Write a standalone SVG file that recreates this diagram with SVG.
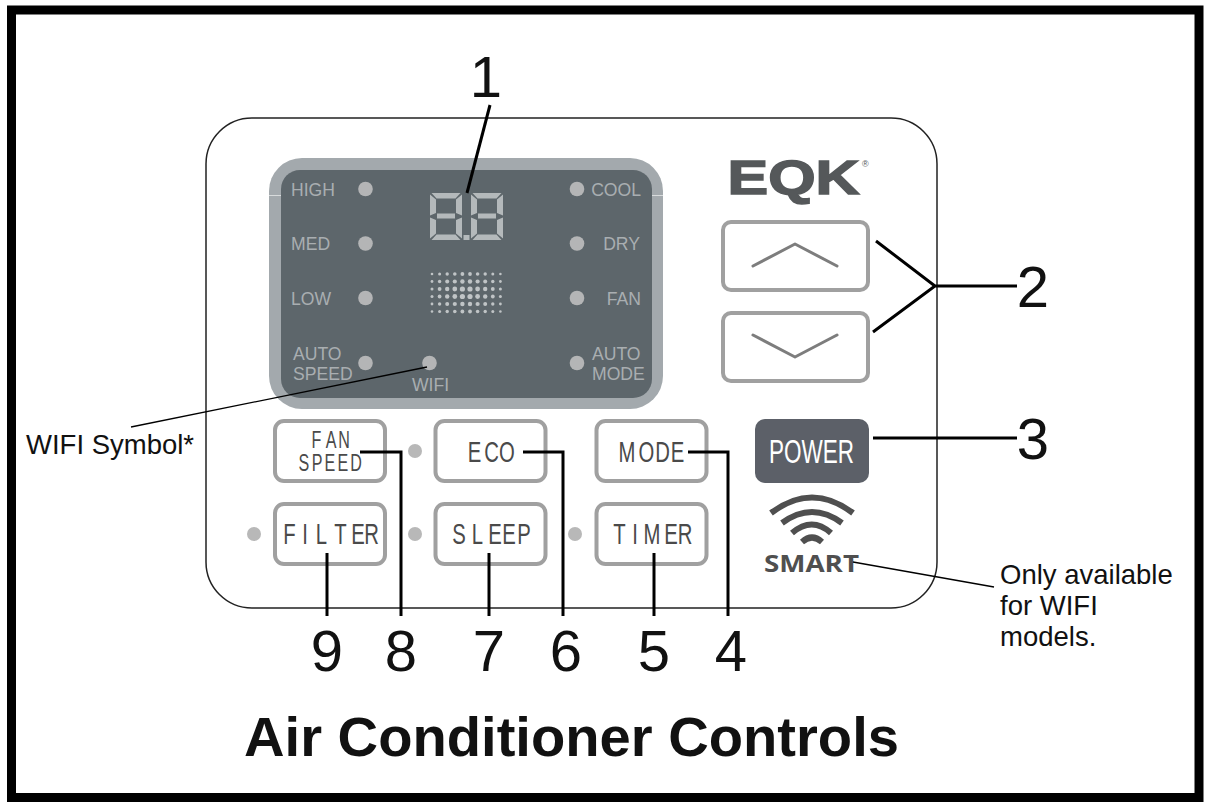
<svg xmlns="http://www.w3.org/2000/svg" width="1208" height="808" viewBox="0 0 1208 808">
<style>
text{font-family:"Liberation Sans",Arial,sans-serif}
.num{font-size:58px;fill:#111;text-anchor:middle}
.note{font-size:27.500px;fill:#111}
.d{font-size:17.600px;fill:#a9aeb1}
.led{fill:#b4b5b6}
.btn{fill:#fff;stroke:#a0a0a0;stroke-width:4}
.bt{fill:#4a4a4a;font-size:29px;text-anchor:middle}
.bs{font-size:23px}
.dot{fill:#b8b8b8}
.seg{fill:#b4b9bb}
.lead{fill:none;stroke:#000;stroke-width:3}
.thin{fill:none;stroke:#000;stroke-width:1.300}
.chev{fill:none;stroke:#7d7d7d;stroke-width:3;stroke-linecap:round;stroke-linejoin:round}
.wf{fill:none;stroke:#4f4f4f;stroke-width:6}
</style>
<defs>
<g id="digit">
<path class="seg" d="M1.500 0H30.500L25.500 5.500H6.500ZM0 1.500L6 6.500V20L0 22.500ZM32 1.500V22.500L26 20V6.500ZM7 20.500H25V25.500H7ZM0 24.500L6 27V40.500L0 45.500ZM32 24.500V45.500L26 40.500V27ZM6.500 41.500H25.500L30.500 47H1.500Z"/>
</g>
</defs>
<rect id="frame" x="11.500" y="10" width="1187.500" height="787.500" fill="#fff" stroke="#000" stroke-width="9"/>
<g id="panel"><rect x="206" y="118" width="731" height="490" rx="46" fill="#fff" stroke="#222" stroke-width="1.500"/></g>
<g id="display">
<rect x="269" y="158" width="394" height="251" rx="33" fill="#a3a9ad"/>
<rect x="281" y="170" width="371" height="228" rx="19" fill="#5d666b"/>
<path d="M269 195.500H281M652 195.500H663" stroke="#d8dbdc" stroke-width="1"/>
<use href="#digit" x="430" y="193"/>
<use href="#digit" x="471" y="193"/>
<rect class="seg" x="463.500" y="235" width="6" height="5"/>
<g id="dots" fill="#c0c4c6">
<circle cx="432" cy="274" r="1.300"/><circle cx="439.600" cy="274" r="1.500"/><circle cx="447.200" cy="274" r="1.700"/><circle cx="454.800" cy="274" r="1.800"/><circle cx="462.400" cy="274" r="1.900"/><circle cx="470" cy="274" r="1.900"/><circle cx="477.600" cy="274" r="1.800"/><circle cx="485.200" cy="274" r="1.700"/><circle cx="492.800" cy="274" r="1.500"/><circle cx="500.400" cy="274" r="1.300"/>
<circle cx="432" cy="281.500" r="1.400"/><circle cx="439.600" cy="281.500" r="1.700"/><circle cx="447.200" cy="281.500" r="2"/><circle cx="454.800" cy="281.500" r="2.100"/><circle cx="462.400" cy="281.500" r="2.200"/><circle cx="470" cy="281.500" r="2.200"/><circle cx="477.600" cy="281.500" r="2.100"/><circle cx="485.200" cy="281.500" r="2"/><circle cx="492.800" cy="281.500" r="1.700"/><circle cx="500.400" cy="281.500" r="1.400"/>
<circle cx="432" cy="289" r="1.500"/><circle cx="439.600" cy="289" r="1.900"/><circle cx="447.200" cy="289" r="2.200"/><circle cx="454.800" cy="289" r="2.400"/><circle cx="462.400" cy="289" r="2.600"/><circle cx="470" cy="289" r="2.600"/><circle cx="477.600" cy="289" r="2.400"/><circle cx="485.200" cy="289" r="2.200"/><circle cx="492.800" cy="289" r="1.900"/><circle cx="500.400" cy="289" r="1.500"/>
<circle cx="432" cy="296.500" r="1.500"/><circle cx="439.600" cy="296.500" r="1.900"/><circle cx="447.200" cy="296.500" r="2.200"/><circle cx="454.800" cy="296.500" r="2.400"/><circle cx="462.400" cy="296.500" r="2.600"/><circle cx="470" cy="296.500" r="2.600"/><circle cx="477.600" cy="296.500" r="2.400"/><circle cx="485.200" cy="296.500" r="2.200"/><circle cx="492.800" cy="296.500" r="1.900"/><circle cx="500.400" cy="296.500" r="1.500"/>
<circle cx="432" cy="304" r="1.400"/><circle cx="439.600" cy="304" r="1.700"/><circle cx="447.200" cy="304" r="2"/><circle cx="454.800" cy="304" r="2.100"/><circle cx="462.400" cy="304" r="2.200"/><circle cx="470" cy="304" r="2.200"/><circle cx="477.600" cy="304" r="2.100"/><circle cx="485.200" cy="304" r="2"/><circle cx="492.800" cy="304" r="1.700"/><circle cx="500.400" cy="304" r="1.400"/>
<circle cx="432" cy="311.500" r="1.300"/><circle cx="439.600" cy="311.500" r="1.500"/><circle cx="447.200" cy="311.500" r="1.700"/><circle cx="454.800" cy="311.500" r="1.800"/><circle cx="462.400" cy="311.500" r="1.900"/><circle cx="470" cy="311.500" r="1.900"/><circle cx="477.600" cy="311.500" r="1.800"/><circle cx="485.200" cy="311.500" r="1.700"/><circle cx="492.800" cy="311.500" r="1.500"/><circle cx="500.400" cy="311.500" r="1.300"/>
</g>
<circle class="led" cx="365.500" cy="189" r="7.300"/><circle class="led" cx="365.500" cy="243.500" r="7.300"/><circle class="led" cx="365.500" cy="298" r="7.300"/><circle class="led" cx="365.500" cy="363" r="7.300"/>
<circle class="led" cx="429.500" cy="363" r="7.300"/>
<circle class="led" cx="577" cy="189" r="7.300"/><circle class="led" cx="577" cy="243.500" r="7.300"/><circle class="led" cx="577" cy="298" r="7.300"/><circle class="led" cx="577" cy="363" r="7.300"/>
<text class="d" x="291" y="195.500">HIGH</text>
<text class="d" x="291" y="250">MED</text>
<text class="d" x="291" y="304.500">LOW</text>
<text class="d" x="293" y="360">AUTO</text>
<text class="d" x="293" y="380">SPEED</text>
<text class="d" x="412" y="391">WIFI</text>
<text class="d" x="641" y="195.500" text-anchor="end">COOL</text>
<text class="d" x="640" y="250" text-anchor="end">DRY</text>
<text class="d" x="641" y="304.500" text-anchor="end">FAN</text>
<text class="d" x="592" y="360">AUTO</text>
<text class="d" x="592" y="380">MODE</text>
</g>
<g id="logo">
<text x="727.500" y="194" font-size="48" font-weight="700" fill="#55585a" stroke="#55585a" stroke-width="1.500" textLength="132" lengthAdjust="spacingAndGlyphs">EQK</text>
<text x="862" y="167" font-size="9" fill="#55585a">®</text>
</g>
<g id="btn-up"><rect class="btn" x="723" y="222" width="145" height="68" rx="8"/><path class="chev" d="M753 266L795 244L837 266"/></g>
<g id="btn-down"><rect class="btn" x="723" y="313" width="145" height="68" rx="8"/><path class="chev" d="M753 335L795 357L837 335"/></g>
<g id="btn-power"><rect x="755" y="419" width="114" height="64" rx="10" fill="#5c6068"/><text x="769" y="463" font-size="33" fill="#fff" textLength="85" lengthAdjust="spacingAndGlyphs">POWER</text></g>
<g id="btn-fan"><rect class="btn" x="275" y="421" width="110" height="60" rx="9"/>
<text class="bt bs" transform="translate(0,448) scale(.7,1)" x="452.100 472.900 491.400">FAN</text>
<text class="bt bs" transform="translate(0,471) scale(.7,1)" x="434.300 452.900 471.400 490 508.600">SPEED</text></g>
<g id="btn-eco"><rect class="btn" x="435.500" y="421" width="110" height="60" rx="9"/><circle class="dot" cx="415" cy="451" r="7"/><text class="bt" transform="translate(0,462) scale(.7,1)" x="677.900 702.100 724.300">ECO</text></g>
<g id="btn-mode"><rect class="btn" x="596.500" y="421" width="110" height="60" rx="9"/><text class="bt" transform="translate(0,462) scale(.7,1)" x="895.700 923.600 946.400 967.900">MODE</text></g>
<g id="btn-filter"><rect class="btn" x="275" y="504" width="110" height="60" rx="9"/><circle class="dot" cx="254" cy="534" r="7"/><text class="bt" transform="translate(0,544) scale(.7,1)" x="413.600 435.700 459.300 486.400 511.400 530.700">FILTER</text></g>
<g id="btn-sleep"><rect class="btn" x="435.500" y="504" width="110" height="60" rx="9"/><circle class="dot" cx="415" cy="534" r="7"/><text class="bt" transform="translate(0,544) scale(.7,1)" x="655.700 682.100 707.100 727.100 748.600">SLEEP</text></g>
<g id="btn-timer"><rect class="btn" x="596.500" y="504" width="110" height="60" rx="9"/><circle class="dot" cx="575" cy="534" r="7"/><text class="bt" transform="translate(0,544) scale(.7,1)" x="885 907.100 931.400 958.600 978.600">TIMER</text></g>
<g id="smart">
<path class="wf" d="M771 513Q812 482 853 513"/>
<path class="wf" d="M782 523Q812 501 842 523"/>
<path class="wf" d="M792 533Q812 516 831 533"/>
<path class="wf" d="M802 542Q812 533 822 542"/>
<text x="764" y="572" font-size="23" font-weight="700" fill="#4f4f4f" textLength="95" lengthAdjust="spacingAndGlyphs" style="font-family:'Open Sans',sans-serif">SMART</text>
</g>
<g id="connectors">
<path class="lead" d="M490 105L467 193"/>
<path class="lead" d="M876 241L935 286L873 332M935 286H1017"/>
<path class="lead" d="M873 438H1017"/>
<path class="lead" d="M688 452H728V616"/>
<path class="lead" d="M654 553V616"/>
<path class="lead" d="M523 452H563V616"/>
<path class="lead" d="M489 553V616"/>
<path class="lead" d="M360 452H401V616"/>
<path class="lead" d="M327 553V616"/>
<path class="thin" d="M427 367L131 427"/>
<path class="thin" d="M853 562L994 587"/>
</g>
<g id="labels">
<text class="num" x="486" y="97">1</text>
<text class="num" x="1033" y="307">2</text>
<text class="num" x="1033" y="459">3</text>
<text class="num" x="731" y="671">4</text>
<text class="num" x="654" y="671">5</text>
<text class="num" x="566" y="671">6</text>
<text class="num" x="489" y="671">7</text>
<text class="num" x="401" y="671">8</text>
<text class="num" x="327" y="671">9</text>
<text class="note" x="26" y="454">WIFI Symbol*</text>
<text class="note" x="1000" y="584">Only available</text>
<text class="note" x="1000" y="615">for WIFI</text>
<text class="note" x="1000" y="646">models.</text>
<text x="244" y="756" font-size="55" font-weight="700" fill="#111" textLength="655" lengthAdjust="spacingAndGlyphs">Air Conditioner Controls</text>
</g>
</svg>
